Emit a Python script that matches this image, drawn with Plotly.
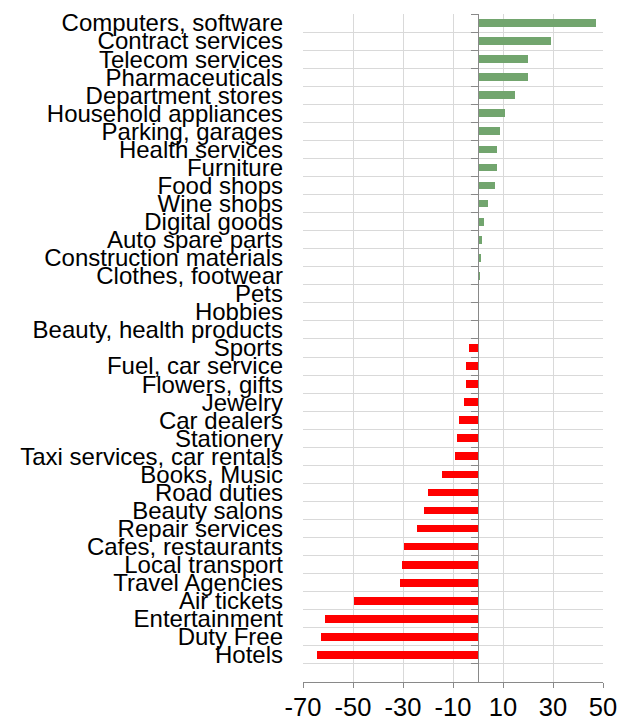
import plotly.graph_objects as go

categories = [
    "Computers, software", "Contract services", "Telecom services", "Pharmaceuticals",
    "Department stores", "Household appliances", "Parking, garages", "Health services",
    "Furniture", "Food shops", "Wine shops", "Digital goods", "Auto spare parts",
    "Construction materials", "Clothes, footwear", "Pets", "Hobbies",
    "Beauty, health products", "Sports", "Fuel, car service", "Flowers, gifts",
    "Jewelry", "Car dealers", "Stationery", "Taxi services, car rentals",
    "Books, Music", "Road duties", "Beauty salons", "Repair services",
    "Cafes, restaurants", "Local transport", "Travel Agencies", "Air tickets",
    "Entertainment", "Duty Free", "Hotels", " ",
]
values = [
    47, 29.3, 20, 20, 14.9, 10.9, 8.9, 7.7, 7.7, 6.9, 4.1, 2.5, 1.7, 1.3, 0.9,
    0.3, 0, 0, -3.5, -4.8, -4.8, -5.5, -7.6, -8.3, -9.3, -14.3, -19.9, -21.5,
    -24.4, -29.5, -30.3, -31.3, -49.6, -61.3, -62.8, -64.4, None,
]
x_ticks = [-70, -50, -30, -10, 10, 30, 50]
x_tick_labels = ["-70", "-50", "-30", "-10", "10", "30", "50"]

GREEN = "#72a56e"
RED = "#ff0000"
colors = [GREEN if (v is not None and v >= 0) else RED for v in values]

fig = go.Figure()
fig.add_trace(go.Bar(
    x=values, y=categories, orientation="h",
    marker=dict(color=colors, line=dict(width=0)),
    width=0.43, showlegend=False, hoverinfo="x+y",
))
# helper trace to carry categories for the zero-position axis
fig.add_trace(go.Scatter(
    x=[0] * len(categories), y=categories, yaxis="y2", mode="none",
    hoverinfo="skip", showlegend=False,
))

n = len(categories)
yrange = [n - 0.5, -0.5]
xmin, xmax = -70, 50

fig.update_layout(
    width=619, height=711,
    margin=dict(l=295, r=24, t=6, b=37),
    paper_bgcolor="white", plot_bgcolor="white",
    font=dict(family="Liberation Sans, Arial, sans-serif", color="black"),
    bargap=0,
    xaxis=dict(
        range=[xmin, xmax], tickmode="array", tickvals=x_ticks, ticktext=x_tick_labels,
        showgrid=True, gridcolor="#d9d9d9", gridwidth=1,
        zeroline=False, showline=True, linecolor="#898989", linewidth=1,
        ticks="outside", ticklen=5, tickcolor="#898989",
        tickfont=dict(size=25.5, color="black"), ticklabelstandoff=-3,
        automargin=False, fixedrange=True,
    ),
    yaxis=dict(
        type="category", categoryorder="array", categoryarray=categories,
        range=yrange, tickmode="array", tickvals=categories,
        tickson="boundaries", showgrid=True, gridcolor="#d9d9d9", gridwidth=1,
        zeroline=False, showline=False, ticks="",
        ticklabelstandoff=19, automargin=False,
        tickfont=dict(size=24, color="black"),
    ),
    yaxis2=dict(
        type="category", categoryorder="array", categoryarray=categories,
        range=yrange, overlaying="y", anchor="free",
        position=(0 - xmin) / (xmax - xmin),
        tickmode="array", tickvals=categories,
        tickson="boundaries", showgrid=False, zeroline=False,
        showline=True, linecolor="#898989", linewidth=1,
        ticks="outside", ticklen=7, tickcolor="#898989",
        showticklabels=False, automargin=False,
    ),
)

fig.write_html("out.html")
